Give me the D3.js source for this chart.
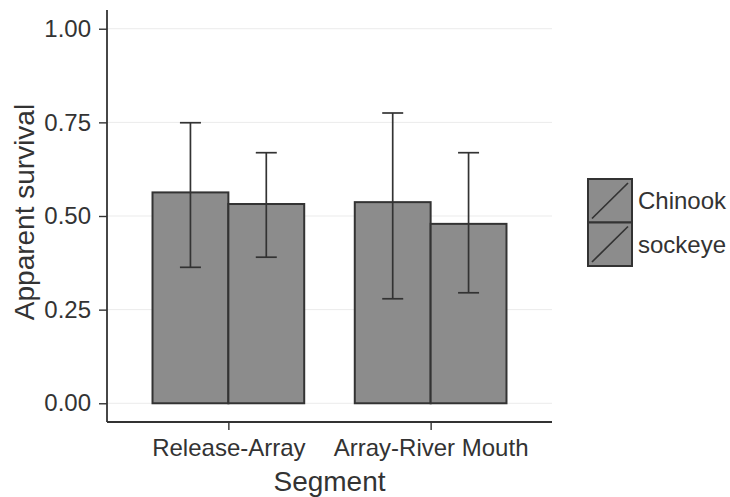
<!DOCTYPE html>
<html>
<head>
<meta charset="utf-8">
<script src="https://cdn.jsdelivr.net/npm/d3@7"></script>
<style>
  body { margin: 0; background: #fff; }
  text { font-family: "Liberation Sans", Arial, sans-serif; fill: #333; }
  .axis path, .axis line { stroke: #333; }
</style>
</head>
<body>
<div id="chart"></div>
<script>
// values
const segments = ["Release-Array", "Array-River Mouth"];
const species = ["Chinook", "sockeye"];
const chinookSurvival = [0.563, 0.537];
const sockeyeSurvival = [0.532, 0.479];
const chinookLower = [0.363, 0.279];
const chinookUpper = [0.749, 0.775];
const sockeyeLower = [0.390, 0.295];
const sockeyeUpper = [0.669, 0.669];
const yTicks = [0, 0.25, 0.5, 0.75, 1];

const rows = [];
segments.forEach((s, i) => {
    rows.push({ segment: s, species: "Chinook", value: chinookSurvival[i], lo: chinookLower[i], hi: chinookUpper[i] });
    rows.push({ segment: s, species: "sockeye", value: sockeyeSurvival[i], lo: sockeyeLower[i], hi: sockeyeUpper[i] });
});

const width = 730;
const height = 497;
const panel = { left: 107, right: 552, top: 10, bottom: 422 };
const barFill = "#8c8c8c";
const dark = "#333333";
const textCol = "#2a2a2a";

const svg = d3.select("#chart")
    .append("svg")
    .attr("width", width)
    .attr("height", height);

// x: discrete, ggplot-like expansion of 0.6
const xScale = d3.scalePoint()
    .domain(segments)
    .range([panel.left, panel.right])
    .padding(0.6);
const groupWidth = xScale.step() * 0.75;
const xInner = d3.scaleBand()
    .domain(species)
    .range([-groupWidth / 2, groupWidth / 2]);

const yScale = d3.scaleLinear()
    .domain([-0.05, 1.05])
    .range([panel.bottom, panel.top]);

// grid
svg.append("g")
    .selectAll("line")
    .data(yTicks)
    .join("line")
    .attr("x1", panel.left)
    .attr("x2", panel.right)
    .attr("y1", d => yScale(d))
    .attr("y2", d => yScale(d))
    .attr("stroke", "#ebebeb")
    .attr("stroke-width", 1);

// bars
svg.append("g")
    .selectAll("rect")
    .data(rows)
    .join("rect")
    .attr("x", d => xScale(d.segment) + xInner(d.species))
    .attr("y", d => yScale(d.value))
    .attr("width", xInner.bandwidth())
    .attr("height", d => yScale(0) - yScale(d.value))
    .attr("fill", barFill)
    .attr("stroke", dark)
    .attr("stroke-width", 2);

// error bars
const capHalf = 10.5;
const err = svg.append("g")
    .selectAll("g")
    .data(rows)
    .join("g")
    .attr("transform", d => `translate(${xScale(d.segment) + xInner(d.species) + xInner.bandwidth() / 2}, 0)`);
err.append("line")
    .attr("y1", d => yScale(d.lo))
    .attr("y2", d => yScale(d.hi))
    .attr("stroke", dark)
    .attr("stroke-width", 1.7);
err.selectAll("line.cap")
    .data(d => [d.lo, d.hi])
    .join("line")
    .attr("class", "cap")
    .attr("x1", -capHalf)
    .attr("x2", capHalf)
    .attr("y1", d => yScale(d))
    .attr("y2", d => yScale(d))
    .attr("stroke", dark)
    .attr("stroke-width", 1.7);

// axes
const leftAxis = d3.axisLeft(yScale)
    .tickValues(yTicks)
    .tickFormat(d3.format(".2f"))
    .tickSize(8)
    .tickPadding(8)
    .tickSizeOuter(0);
const yAxis = svg.append("g")
    .attr("class", "axis")
    .attr("transform", `translate(${panel.left}, 0)`)
    .call(leftAxis);
yAxis.select(".domain").attr("d", `M0,${panel.top}V${panel.bottom}`).attr("stroke-width", 1.8);
yAxis.selectAll(".tick line").attr("stroke-width", 1.4);
yAxis.selectAll("text")
    .attr("font-size", 24)
    .attr("fill", textCol);

const bottomAxis = d3.axisBottom(xScale)
    .tickSize(8)
    .tickPadding(9)
    .tickSizeOuter(0);
const xAxis = svg.append("g")
    .attr("class", "axis")
    .attr("transform", `translate(0, ${panel.bottom})`)
    .call(bottomAxis);
xAxis.select(".domain").attr("d", `M${panel.left},0H${panel.right}`).attr("stroke-width", 1.8);
xAxis.selectAll(".tick line").attr("stroke-width", 1.4);
xAxis.selectAll("text")
    .attr("font-size", 24)
    .attr("fill", textCol);
svg.selectAll(".axis text").attr("font-family", "Liberation Sans, Arial, sans-serif");

// axis titles
svg.append("text")
    .text("Segment")
    .attr("x", (panel.left + panel.right) / 2)
    .attr("y", 491)
    .attr("text-anchor", "middle")
    .attr("font-size", 28)
    .attr("fill", "#1a1a1a");
svg.append("text")
    .text("Apparent survival")
    .attr("transform", `translate(34, ${(panel.top + panel.bottom) / 2 - 4}) rotate(-90)`)
    .attr("text-anchor", "middle")
    .attr("font-size", 28)
    .attr("fill", "#1a1a1a");

// legend
const keySize = 43.5;
const legend = svg.append("g")
    .attr("transform", "translate(588, 179)");
const keys = legend.selectAll("g")
    .data(species)
    .join("g")
    .attr("transform", (d, i) => `translate(0, ${i * keySize})`);
keys.append("rect")
    .attr("width", 44)
    .attr("height", keySize)
    .attr("fill", barFill)
    .attr("stroke", dark)
    .attr("stroke-width", 2);
keys.append("line")
    .attr("x1", 4)
    .attr("y1", keySize - 4)
    .attr("x2", 40)
    .attr("y2", 4)
    .attr("stroke", dark)
    .attr("stroke-width", 1.7);
keys.append("text")
    .text(d => d)
    .attr("x", 50)
    .attr("y", keySize / 2)
    .attr("dy", "0.35em")
    .attr("font-size", 24)
    .attr("fill", textCol);
</script>
</body>
</html>
